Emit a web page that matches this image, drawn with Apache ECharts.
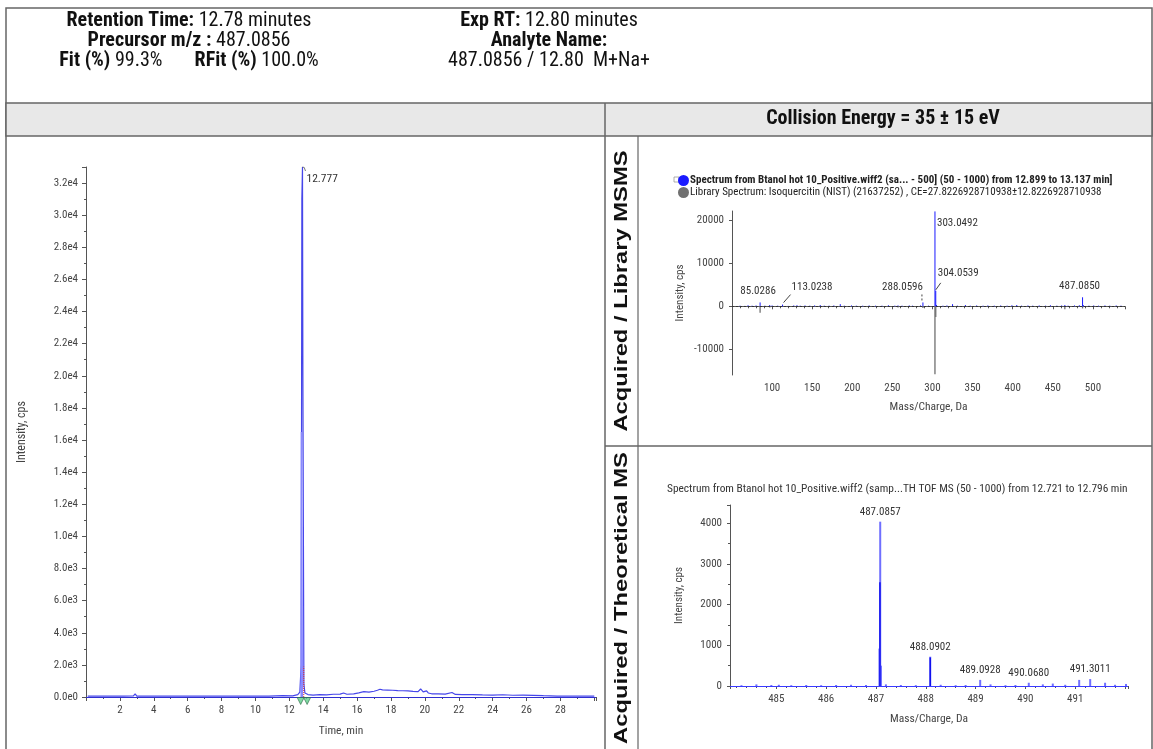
<!DOCTYPE html>
<html><head><meta charset="utf-8">
<script src="https://cdn.jsdelivr.net/npm/echarts@6/dist/echarts.min.js"></script>
<style>html,body{margin:0;padding:0;background:#fff}#c{width:1153px;height:749px}</style>
</head><body><div id="c"></div>
<script>
// ---------- DATA ----------
// XIC chromatogram: [time (min), intensity (cps)]
const xicPoints = [
  [0.1,60],[0.8,50],[1.5,60],[2.2,50],[2.8,70],[2.9,200],[3.0,60],[3.6,50],[4.4,60],[5.2,50],[6.0,60],
  [6.8,50],[7.6,60],[8.4,50],[9.2,60],[10.0,50],[10.8,60],[11.6,80],[12.2,70],[12.5,150],[12.62,300],
  [12.70,2000],[12.74,31000],[12.777,33000],[12.80,20000],[12.86,800],[12.92,250],[13.1,150],[13.4,120],
  [13.8,150],[14.2,130],[14.6,170],[15.0,180],[15.2,250],[15.4,170],[15.8,200],[16.1,260],[16.4,330],
  [16.7,300],[17.0,360],[17.2,420],[17.35,480],[17.5,440],[17.8,430],[18.1,420],[18.4,400],[18.7,390],
  [19.0,380],[19.3,350],[19.6,330],[19.75,500],[19.9,320],[20.1,380],[20.2,250],[20.4,200],[20.8,200],
  [21.2,180],[21.6,280],[21.8,160],[22.2,150],[22.8,150],[23.4,130],[24.0,120],[24.6,140],[25.2,110],
  [25.8,120],[26.4,100],[27.0,80],[27.8,60],[28.6,60],[29.4,60],[30.0,60]
];
const xicInnerPoints = [[12.70,0],[12.715,16500],[12.755,16500],[12.77,0]];
const xicApexMark = [[12.85,0],[12.85,1900]];
const xicBoundaryMarkers = [[12.67,-250],[13.05,-250]];
const xicPeakLabel = { time: 12.777, intensity: 33000, text: '12.777' };
const xicYTicks = [0,2000,4000,6000,8000,10000,12000,14000,16000,18000,20000,22000,24000,26000,28000,30000,32000];
const xicXTicks = [2,4,6,8,10,12,14,16,18,20,22,24,26,28];

// MSMS acquired (blue) : [m/z, intensity]
const msmsAcquired = [
  [60,150],[66,100],[70,250],[75,150],[80,200],[85.0286,900],[91,150],[97,300],[100,200],[107,150],
  [113.0238,400],[120,100],[127,200],[131,250],[135,150],[141,200],[147,150],[153,200],[160,300],[165,150],
  [171,150],[177,200],[185,500],[190,150],[199,200],[205,150],[213,150],[221,200],[229,150],[237,150],
  [245,250],[253,150],[257,200],[262,150],[271,200],[275,150],[285,200],[288.0596,900],[295,150],
  [303.0492,22100],[304.0539,3600],[305,300],[313,150],[318,200],[325,500],[331,150],[341,300],[347,150],
  [355,200],[363,150],[369,200],[377,150],[385,200],[393,150],[399,250],[405,300],[411,150],[419,200],
  [425,150],[433,200],[441,150],[447,250],[455,150],[461,200],[465,300],[469,150],[477,200],[483,250],
  [487.0850,2100],[488,300],[495,150],[501,200],[507,150],[515,200],[521,150],[529,200],[535,150]
];
// MSMS library (grey, mirrored negative)
const msmsLibrary = [[85.03,-1500],[97,-300],[257,-300],[288.06,-400],[303.05,-15800],[304.05,-2500],[465,-700],[487.08,-500]];
const msmsLabels = ['85.0286','113.0238','288.0596','303.0492','304.0539','487.0850'];
const msmsAcqName = 'Spectrum from Btanol hot 10_Positive.wiff2 (sa... - 500] (50 - 1000) from 12.899 to 13.137 min]';
const msmsLibName = 'Library Spectrum: Isoquercitin (NIST) (21637252) , CE=27.8226928710938\u00B112.8226928710938';

// MS acquired (profile light, centroid dark): [m/z, intensity]
const msProfile = [
  [484.3,20],[484.6,40],[484.9,25],[485.05,30],[485.3,20],[485.6,25],[485.9,20],[486.2,25],[486.5,30],
  [486.8,25],[487.07,920],[487.0857,4040],[487.1,500],[487.2,40],[487.5,25],[487.8,20],[488.0902,720],
  [488.3,30],[488.6,20],[488.8,25],[489.0928,150],[489.3,40],[489.6,20],[489.8,25],[490.068,80],[490.35,40],
  [490.55,60],[490.8,30],[491.08,150],[491.3011,170],[491.6,80],[491.8,30],[492.02,50]
];
const msCentroid = [[487.08,2550],[488.09,700]];
const msLabels = ['487.0857','488.0902','489.0928','490.0680','491.3011'];
const msTitle = 'Spectrum from Btanol hot 10_Positive.wiff2 (samp...TH TOF MS (50 - 1000) from 12.721 to 12.796 min';

// Header texts
const headerLeft = [
  ['Retention Time:', ' 12.78 minutes'],
  ['Precursor m/z :', ' 487.0856'],
  ['Fit (%)', ' 99.3%       ', 'RFit (%)', ' 100.0%']
];
const headerRight = [
  ['Exp RT:', ' 12.80 minutes'],
  ['Analyte Name:', ''],
  ['', '487.0856 / 12.80  M+Na+']
];
const collisionText = 'Collision Energy = 35 \u00B1 15 eV';
const sideLabels = ['Acquired / Library MSMS', 'Acquired / Theoretical MS'];

// ---------- CHART ----------
const NARROW = "'Liberation Sans Narrow','Arial Narrow','Roboto Condensed','Liberation Sans',sans-serif";
const BOLDF = "'Liberation Sans',Arial,sans-serif";
const chart = echarts.init(document.getElementById('c'), null, {renderer: 'canvas'});

function sciFmt(v) {
  if (v === 0) return '0.0e0';
  const e = Math.floor(Math.log10(Math.abs(v)) + 1e-9);
  const m = v / Math.pow(10, e);
  return m.toFixed(1) + 'e' + e;
}
function stickRender(width) {
  return function (params, api) {
    const x = api.value(0), y = api.value(1);
    const p0 = api.coord([x, 0]), p1 = api.coord([x, y]);
    return {type: 'line', shape: {x1: p0[0], y1: p0[1], x2: p1[0], y2: p1[1]},
      style: {stroke: api.visual('color'), lineWidth: width}};
  };
}
// label placement styles (offsets in px relative to peak top)
const msmsLabelStyle = {
  '85.0286': {dx: -2, dy: -6, align: 'center', lead: null},
  '113.0238': {dx: 9, dy: -12, align: 'left', lead: [1, -2, 8, -10]},
  '288.0596': {dx: 0, dy: -10, align: 'right', lead: [-1, -2, -1, -8], dash: true},
  '303.0492': {dx: 2, dy: 12, align: 'left', lead: null},
  '304.0539': {dx: 2, dy: -12, align: 'left', lead: [0, -1, 5, -8]},
  '487.0850': {dx: -3, dy: -6, align: 'center', lead: null}
};
function labelRender(lookup, styleMap, fontSize) {
  return function (params, api) {
    const x = api.value(0), y = api.value(1);
    const txt = lookup[params.dataIndex];
    const p = api.coord([x, y]);
    const st = styleMap ? styleMap[txt] : {dx: 0, dy: -4, align: 'center', lead: null};
    const children = [{type: 'text', x: p[0] + st.dx, y: p[1] + st.dy,
      style: {text: txt, fill: '#333', font: fontSize + 'px ' + NARROW, align: st.align, verticalAlign: st.dy > 0 ? 'middle' : 'bottom'}}];
    if (st.lead) {
      children.push({type: 'line', shape: {x1: p[0] + st.lead[0], y1: p[1] + st.lead[1], x2: p[0] + st.lead[2], y2: p[1] + st.lead[3]},
        style: {stroke: '#444', lineWidth: 1, lineDash: st.dash ? [2, 2] : null}});
    }
    return {type: 'group', children: children};
  };
}
function findPeak(arr, label) {
  const v = parseFloat(label);
  let best = arr[0];
  arr.forEach(d => { if (Math.abs(d[0] - v) < Math.abs(best[0] - v)) best = d; });
  return [v, best[1]];
}
const msmsLabelData = msmsLabels.map(l => findPeak(msmsAcquired, l));
const msLabelData = msLabels.map(l => findPeak(msProfile, l));

const axisCommon = {
  axisLine: {show: true, lineStyle: {color: '#555', width: 1}},
  axisTick: {show: true, length: 4, lineStyle: {color: '#555'}},
  splitLine: {show: false},
  axisLabel: {color: '#444', fontFamily: NARROW, fontSize: 11}
};
const nameStyle = {color: '#444', fontSize: 11.5, fontFamily: NARROW};

// header graphics
const HF = 20;
const richH = {b: {fontWeight: 'bold', fontSize: HF, fontFamily: NARROW, fill: '#111'}, n: {fontSize: HF, fontFamily: NARROW, fill: '#111'}};
function hdrText(parts) {
  let s = '';
  for (let i = 0; i < parts.length; i++) {
    if (!parts[i]) continue;
    s += (i % 2 === 0 ? '{b|' : '{n|') + parts[i] + '}';
  }
  return s;
}
const graphics = [];
const frameStroke = {stroke: '#666', lineWidth: 1.5, fill: null};
graphics.push({type: 'rect', shape: {x: 6, y: 8, width: 1146, height: 800}, style: frameStroke, silent: true});
graphics.push({type: 'rect', shape: {x: 6, y: 103, width: 1146, height: 33}, style: {fill: '#e8e8e8', stroke: '#666', lineWidth: 1.5}, silent: true});
graphics.push({type: 'line', shape: {x1: 605, y1: 103, x2: 605, y2: 749}, style: {stroke: '#666', lineWidth: 1.5}});
graphics.push({type: 'line', shape: {x1: 638, y1: 136, x2: 638, y2: 749}, style: {stroke: '#666', lineWidth: 1.2}});
graphics.push({type: 'line', shape: {x1: 605, y1: 446, x2: 1152, y2: 446}, style: {stroke: '#666', lineWidth: 1.5}});
headerLeft.forEach((p, i) => graphics.push({type: 'text', x: 189, y: 21 + i * 20,
  style: {text: hdrText(p), rich: richH, align: 'center', verticalAlign: 'middle', font: HF + 'px ' + NARROW}}));
headerRight.forEach((p, i) => graphics.push({type: 'text', x: 549, y: 21 + i * 20,
  style: {text: hdrText(p), rich: richH, align: 'center', verticalAlign: 'middle', font: HF + 'px ' + NARROW}}));
graphics.push({type: 'text', x: 883, y: 119, style: {text: collisionText, font: 'bold 20px ' + NARROW, fill: '#111', align: 'center', verticalAlign: 'middle'}});
graphics.push({type: 'text', x: 622, y: 291, rotation: Math.PI / 2, scaleX: 1.32, style: {text: sideLabels[0], font: 'bold 18px ' + BOLDF, fill: '#111', align: 'center', verticalAlign: 'middle'}});
graphics.push({type: 'text', x: 622, y: 598, rotation: Math.PI / 2, scaleX: 1.32, style: {text: sideLabels[1], font: 'bold 18px ' + BOLDF, fill: '#111', align: 'center', verticalAlign: 'middle'}});
graphics.push({type: 'text', x: 667, y: 489, style: {text: msTitle, font: '11.4px ' + NARROW, fill: '#333', align: 'left', verticalAlign: 'middle'}});
graphics.push({type: 'rect', shape: {x: 674, y: 177, width: 5, height: 5}, style: {fill: '#fff', stroke: '#999', lineWidth: 0.8}});

const option = {
  animation: false,
  textStyle: {fontFamily: NARROW},
  graphic: graphics,
  legend: {
    show: true, orient: 'vertical', left: 678, top: 175, itemGap: 1, itemWidth: 11, itemHeight: 11, icon: 'circle',
    padding: 0,
    textStyle: {fontFamily: NARROW, fontSize: 11, color: '#222', padding: [0, 0, 0, -4]},
    data: [{name: msmsAcqName, textStyle: {fontWeight: 'bold'}}, {name: msmsLibName}]
  },
  grid: [
    {left: 86, top: 167, width: 510, height: 530},
    {left: 732, top: 211, width: 393, height: 164},
    {left: 730, top: 505, width: 398, height: 181}
  ],
  xAxis: [
    Object.assign({}, axisCommon, {gridIndex: 0, type: 'value', min: 0, max: 30.1, interval: 2,
      name: 'Time, min', nameLocation: 'middle', nameGap: 28, nameTextStyle: nameStyle,
      minorTick: {show: true, splitNumber: 2, length: 2, lineStyle: {color: '#555'}},
      axisLabel: Object.assign({}, axisCommon.axisLabel, {showMinLabel: false, showMaxLabel: false, formatter: v => xicXTicks.indexOf(v) >= 0 ? String(v) : ''})}),
    Object.assign({}, axisCommon, {gridIndex: 1, type: 'value', min: 50, max: 540, interval: 50,
      name: 'Mass/Charge, Da', nameLocation: 'middle', nameGap: 26, nameTextStyle: nameStyle,
      axisTick: {show: true, length: 3, lineStyle: {color: '#555'}},
      minorTick: {show: true, splitNumber: 5, length: 2, lineStyle: {color: '#555'}},
      axisLabel: Object.assign({}, axisCommon.axisLabel, {showMinLabel: false, showMaxLabel: false, formatter: v => String(v)})}),
    Object.assign({}, axisCommon, {gridIndex: 2, type: 'value', min: 484.07, max: 492.06, splitNumber: 8,
      name: 'Mass/Charge, Da', nameLocation: 'middle', nameGap: 27, nameTextStyle: nameStyle,
      axisTick: {show: true, length: 3, lineStyle: {color: '#555'}},
      minorTick: {show: true, splitNumber: 5, length: 2, lineStyle: {color: '#555'}},
      axisLabel: Object.assign({}, axisCommon.axisLabel, {showMinLabel: false, showMaxLabel: false, formatter: v => v > 491.5 ? '' : String(v)})})
  ],
  yAxis: [
    Object.assign({}, axisCommon, {gridIndex: 0, type: 'value', min: 0, max: 33000, interval: 2000,
      name: 'Intensity, cps', nameLocation: 'middle', nameGap: 58, nameRotate: 90, nameTextStyle: Object.assign({}, nameStyle, {fontSize: 12}),
      minorTick: {show: true, splitNumber: 2, length: 2, lineStyle: {color: '#555'}},
      axisLabel: Object.assign({}, axisCommon.axisLabel, {showMaxLabel: false, formatter: v => xicYTicks.indexOf(v) >= 0 ? sciFmt(v) : ''})}),
    Object.assign({}, axisCommon, {gridIndex: 1, type: 'value', min: -16000, max: 22200, splitNumber: 4,
      name: 'Intensity, cps', nameLocation: 'middle', nameGap: 46, nameRotate: 90, nameTextStyle: Object.assign({}, nameStyle, {fontSize: 11}),
      axisTick: {show: true, length: 3, lineStyle: {color: '#555'}},
      axisLabel: Object.assign({}, axisCommon.axisLabel, {showMinLabel: false, showMaxLabel: false, formatter: v => String(v)})}),
    Object.assign({}, axisCommon, {gridIndex: 2, type: 'value', min: 0, max: 4450, interval: 1000,
      name: 'Intensity, cps', nameLocation: 'middle', nameGap: 45, nameRotate: 90, nameTextStyle: Object.assign({}, nameStyle, {fontSize: 11}),
      axisTick: {show: true, length: 3, lineStyle: {color: '#555'}},
      minorTick: {show: true, splitNumber: 2, length: 2, lineStyle: {color: '#555'}},
      axisLabel: Object.assign({}, axisCommon.axisLabel, {showMaxLabel: false, formatter: v => String(v)})})
  ],
  series: [
    {name: 'XIC', type: 'line', xAxisIndex: 0, yAxisIndex: 0, data: xicPoints, showSymbol: false, symbol: 'none',
      lineStyle: {color: '#4646ea', width: 1.2}, itemStyle: {color: '#4646ea'}, z: 3,
      markLine: {silent: true, symbol: 'none', label: {show: false}, lineStyle: {color: '#3030d0', width: 1.2, type: 'solid'}, data: [{yAxis: 0}]}},
    {name: 'XIC inner', type: 'line', xAxisIndex: 0, yAxisIndex: 0, data: xicInnerPoints, showSymbol: false, symbol: 'none',
      lineStyle: {color: '#8a8aff', width: 1.5}, z: 4},
    {name: 'XIC apex', type: 'line', xAxisIndex: 0, yAxisIndex: 0, data: xicApexMark, showSymbol: false, symbol: 'none',
      lineStyle: {color: '#e03030', width: 1, type: 'dotted'}, z: 5},
    {name: 'XIC boundaries', type: 'scatter', xAxisIndex: 0, yAxisIndex: 0, data: xicBoundaryMarkers, clip: false,
      symbol: 'triangle', symbolRotate: 180, symbolSize: 7, itemStyle: {color: '#5fd08a', borderColor: '#2a6a45', borderWidth: 0.8}, z: 6},
    {name: 'XIC label', type: 'custom', xAxisIndex: 0, yAxisIndex: 0, data: [[xicPeakLabel.time, xicPeakLabel.intensity]], clip: false, z: 7,
      renderItem: function (params, api) {
        const p = api.coord([api.value(0), api.value(1)]);
        return {type: 'group', children: [
          {type: 'text', x: p[0] + 4, y: p[1] + 12, style: {text: xicPeakLabel.text, fill: '#333', font: '11.5px ' + NARROW, align: 'left', verticalAlign: 'middle'}},
          {type: 'bezierCurve', shape: {x1: p[0], y1: p[1], cpx1: p[0] + 2, cpy1: p[1] - 1, x2: p[0] + 3, y2: p[1] + 4}, style: {stroke: '#555', lineWidth: 0.8, fill: null}}
        ]};
      }},
    {name: msmsAcqName, type: 'custom', xAxisIndex: 1, yAxisIndex: 1, data: msmsAcquired, itemStyle: {color: '#1a1aff'},
      renderItem: stickRender(1), z: 4,
      markLine: {silent: true, symbol: 'none', label: {show: false}, lineStyle: {color: '#333', width: 1, type: [2, 2]}, data: [{yAxis: 0}]}},
    {name: msmsLibName, type: 'custom', xAxisIndex: 1, yAxisIndex: 1, data: msmsLibrary, itemStyle: {color: '#707070'},
      renderItem: stickRender(1.3), z: 3},
    {name: 'msms labels', type: 'custom', xAxisIndex: 1, yAxisIndex: 1, data: msmsLabelData, clip: false, z: 6,
      renderItem: labelRender(msmsLabels, msmsLabelStyle, 11)},
    {name: 'MS profile', type: 'custom', xAxisIndex: 2, yAxisIndex: 2, data: msProfile, itemStyle: {color: '#6f6fff'},
      renderItem: stickRender(2), z: 3,
      markLine: {silent: true, symbol: 'none', label: {show: false}, lineStyle: {color: '#3a3aff', width: 1, type: 'solid'}, data: [{yAxis: 0}]}},
    {name: 'MS centroid', type: 'custom', xAxisIndex: 2, yAxisIndex: 2, data: msCentroid, itemStyle: {color: '#1010ee'},
      renderItem: stickRender(1.5), z: 4},
    {name: 'ms labels', type: 'custom', xAxisIndex: 2, yAxisIndex: 2, data: msLabelData, clip: false, z: 6,
      renderItem: labelRender(msLabels, null, 11)}
  ]
};
chart.setOption(option);
</script>
</body></html>
